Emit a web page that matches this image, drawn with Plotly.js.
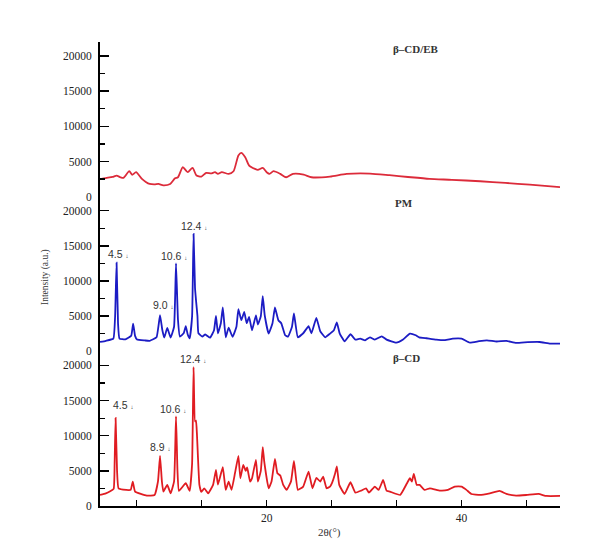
<!DOCTYPE html>
<html><head><meta charset="utf-8">
<script src="https://cdn.plot.ly/plotly-3.0.1.min.js"></script>
<style>html,body{margin:0;padding:0;background:#fff}#chart{width:608px;height:560px}</style>
</head><body><div id="chart"></div>
<script>
// 2θ (°) and intensity (a.u.) for each pattern
const cdebX = [2.9,3.5,4.2,4.6,5.0,5.3,5.9,6.2,6.6,7.2,7.6,8.0,8.5,8.9,9.4,10.1,10.6,10.9,11.4,11.9,12.4,12.8,13.3,13.8,14.3,14.7,15.0,15.4,16.1,16.6,17.1,17.4,17.8,18.2,18.8,19.1,19.6,20.0,20.3,20.7,21.4,22.0,22.7,23.8,24.6,26.5,28.2,30.6,32.6,34.5,36.7,39.0,41.9,44.5,47.0,50.1];
const cdebY = [2500,2650,2800,3000,2750,2670,3620,3100,3480,2530,2100,1810,1750,1810,1620,1810,2620,2760,4190,3480,4100,3000,2860,3380,3300,3480,3240,3480,3240,3620,5860,6240,5620,4430,3950,3810,4100,3480,3240,3620,3240,2760,3240,3140,2760,2860,3240,3290,3050,2800,2530,2400,2190,1950,1710,1350];

const pmX = [2.9,3.5,4.27,4.45,4.6,4.75,4.9,5.5,6.1,6.3,6.5,6.7,7.5,8.0,8.7,9.06,9.3,9.5,9.8,10.15,10.5,10.7,10.9,11.1,11.5,11.7,11.9,12.1,12.35,12.5,12.65,12.75,12.9,13.0,13.4,13.7,14.2,14.6,14.8,15.0,15.3,15.5,15.8,16.1,16.5,16.9,17.1,17.4,17.7,17.95,18.2,18.5,18.9,19.1,19.4,19.6,19.8,20.2,20.6,20.85,21.2,21.5,21.9,22.2,22.6,22.8,23.2,23.75,24.3,24.6,25.1,25.5,26.0,26.5,26.9,27.2,27.5,28.0,28.6,29.1,29.6,30.1,30.6,31.1,31.8,32.3,33.3,34.0,34.7,35.3,35.65,36.4,37.4,38.3,39.1,40.0,40.85,41.8,42.6,43.6,44.6,45.6,46.8,48.0,49.1,50.1];
const pmY = [1330,1500,1810,5000,12600,4000,1810,1700,2200,3950,2200,1670,1550,1500,2000,5140,3000,1950,3330,1950,3500,12520,4500,2100,2600,3570,2400,1850,5000,16710,9000,7290,5000,2570,2100,2400,1950,3000,5050,2570,4000,6240,2000,3380,2050,3500,6000,4430,5620,4000,4900,3000,5100,3810,5000,7860,5140,2520,4000,6240,4430,4000,2290,2100,3500,5380,2000,2570,3570,2570,4760,2860,2000,2520,3000,4100,2520,1430,2430,1670,1810,1570,2000,1670,2140,1670,1240,1700,2520,2290,2000,1860,1670,1600,1810,1810,1240,1450,1570,1400,1480,1190,1300,1330,1100,1100];

const cdX = [2.9,3.5,3.9,4.3,4.4,4.5,4.65,4.8,5.6,6.05,6.26,6.5,7.7,8.5,8.85,9.06,9.25,9.4,9.8,10.15,10.5,10.7,10.85,11.0,11.7,12.1,12.35,12.5,12.65,12.75,12.85,13.1,13.3,13.6,14.0,14.5,14.8,15.0,15.5,15.8,16.1,16.4,16.75,17.1,17.3,17.6,17.85,18.0,18.3,18.5,18.9,19.1,19.4,19.6,19.75,20.2,20.5,20.85,21.1,21.4,21.7,22.05,22.5,22.8,23.2,23.75,24.3,24.7,25.1,25.5,25.8,26.15,26.5,26.7,27.0,27.2,27.45,28.0,28.6,29.1,29.7,30.2,30.5,31.1,31.5,31.95,32.3,32.65,33.7,34.4,34.7,34.9,35.1,35.4,35.7,36.2,36.75,37.8,38.6,39.3,40.0,40.5,41.0,41.9,42.9,43.9,44.6,45.6,46.7,47.9,48.7,50.1];
const cdY = [1570,1800,2050,2430,6000,12520,5000,2520,2290,2300,3480,2050,1480,1570,3500,7140,3500,2050,3000,1810,3500,12760,5000,2140,3240,2140,6000,19760,12050,12140,10140,3000,2000,2520,1810,3000,5140,3050,5520,2290,3480,2300,4670,7140,3950,5860,5000,5480,3480,3950,6570,3480,5000,8380,6330,2520,3480,6710,4670,4330,3000,2290,3500,6430,2290,2760,4900,2520,4000,3480,4190,2520,2760,3240,4500,5620,3000,1710,3380,1900,2190,2520,1900,2760,2290,3710,2190,2050,1570,3240,3950,3480,4570,3000,3000,2290,2520,2190,2290,2760,2760,2290,1710,1570,1810,2140,1710,1480,1570,1710,1430,1430];

// tick labels and text
const yTickVals = [0,5000,10000,15000,20000];
const yTickText = ['0','5000','10000','15000','20000'];
const yMinorVals = [2500,7500,12500,17500];
const xTickVals = [6.67,13.33,20,26.67,33.33,40,46.67];
const xTickText = ['','','20','','','40',''];
const panelNames = ['β–CD','PM','β–CD/EB'];

// peak labels: text, 2θ anchor, intensity anchor
const pmPeakText = ['4.5','9.0','10.6','12.4'];
const pmPeakX = [3.5,8.1,9.0,11.0];
const pmPeakY = [13800,6570,13600,17760];
const cdPeakText = ['4.5','8.9','10.6','12.4'];
const cdPeakX = [4.0,7.85,8.86,10.9];
const cdPeakY = [14430,8380,13860,20950];

const serif = 'Liberation Serif, Times New Roman, serif';
const sans = 'Liberation Sans, Arial, sans-serif';

const traces = [
  {x: cdX, y: cdY, yaxis: 'y', type: 'scatter', mode: 'lines', line: {color: '#e01c22', width: 1.8, shape: 'spline', smoothing: 0.35}, hoverinfo: 'skip'},
  {x: pmX, y: pmY, yaxis: 'y2', type: 'scatter', mode: 'lines', line: {color: '#1c1cc4', width: 1.8, shape: 'spline', smoothing: 0.35}, hoverinfo: 'skip'},
  {x: cdebX, y: cdebY, yaxis: 'y3', type: 'scatter', mode: 'lines', line: {color: '#dc2b3a', width: 1.8, shape: 'spline', smoothing: 0.6}, hoverinfo: 'skip'}
];

function yAxis(domain) {
  return {
    domain: domain, range: [0, 22000], anchor: 'x',
    tickmode: 'array', tickvals: yTickVals, ticktext: yTickText,
    ticks: 'inside', ticklen: 9, tickwidth: 1.5, tickcolor: '#000',
    minor: {tickmode: 'array', tickvals: yMinorVals, ticks: 'inside', ticklen: 5, tickwidth: 1.2, tickcolor: '#000'},
    showline: true, linecolor: '#000', linewidth: 2,
    showgrid: false, zeroline: false,
    tickfont: {family: serif, size: 11.5, color: '#222'},
    ticklabelstandoff: 4, fixedrange: true
  };
}

const annotations = [];
const panelY = [0.319, 0.653, 0.985];
const panelX = [0.667, 0.661, 0.688];
panelNames.forEach((t, i) => annotations.push({
  text: '<b>' + t + '</b>', xref: 'paper', yref: 'paper', x: panelX[i], y: panelY[i],
  xanchor: 'center', yanchor: 'middle', showarrow: false,
  font: {family: serif, size: 11, color: '#333'}
}));
function addPeaks(texts, xs, ys, yref) {
  texts.forEach((t, i) => annotations.push({
    text: t + ' <span style="font-size:6px">↓</span>', xref: 'x', yref: yref, x: xs[i], y: ys[i],
    xanchor: 'left', yanchor: 'middle', showarrow: false,
    font: {family: sans, size: 10.5, color: '#333'}
  }));
}
addPeaks(pmPeakText, pmPeakX, pmPeakY, 'y2');
addPeaks(cdPeakText, cdPeakX, cdPeakY, 'y');
annotations.push({
  text: 'Intensity (a.u.)', xref: 'paper', yref: 'paper', x: -0.117, y: 0.494,
  textangle: -90, xanchor: 'center', yanchor: 'middle', showarrow: false,
  font: {family: serif, size: 9.5, color: '#333'}
});
annotations.push({
  text: '2θ(°)', xref: 'paper', yref: 'paper', x: 0.499, y: -0.058,
  xanchor: 'center', yanchor: 'middle', showarrow: false,
  font: {family: serif, size: 11, color: '#333'}
});

const layout = {
  width: 608, height: 560,
  margin: {l: 100, r: 48, t: 42, b: 54},
  paper_bgcolor: '#fff', plot_bgcolor: '#fff',
  showlegend: false,
  xaxis: {
    range: [2.9, 50.1], tickmode: 'array', tickvals: xTickVals, ticktext: xTickText,
    ticks: 'inside', ticklen: 6, tickwidth: 1.5, tickcolor: '#000',
    showline: true, linecolor: '#000', linewidth: 2,
    showgrid: false, zeroline: false, anchor: 'y',
    tickfont: {family: serif, size: 11.5, color: '#222'}, fixedrange: true
  },
  yaxis: yAxis([0, 1/3]),
  yaxis2: yAxis([1/3, 2/3]),
  yaxis3: yAxis([2/3, 1]),
  annotations: annotations
};

Plotly.newPlot('chart', traces, layout, {staticPlot: true, displayModeBar: false});
</script>
</body></html>
